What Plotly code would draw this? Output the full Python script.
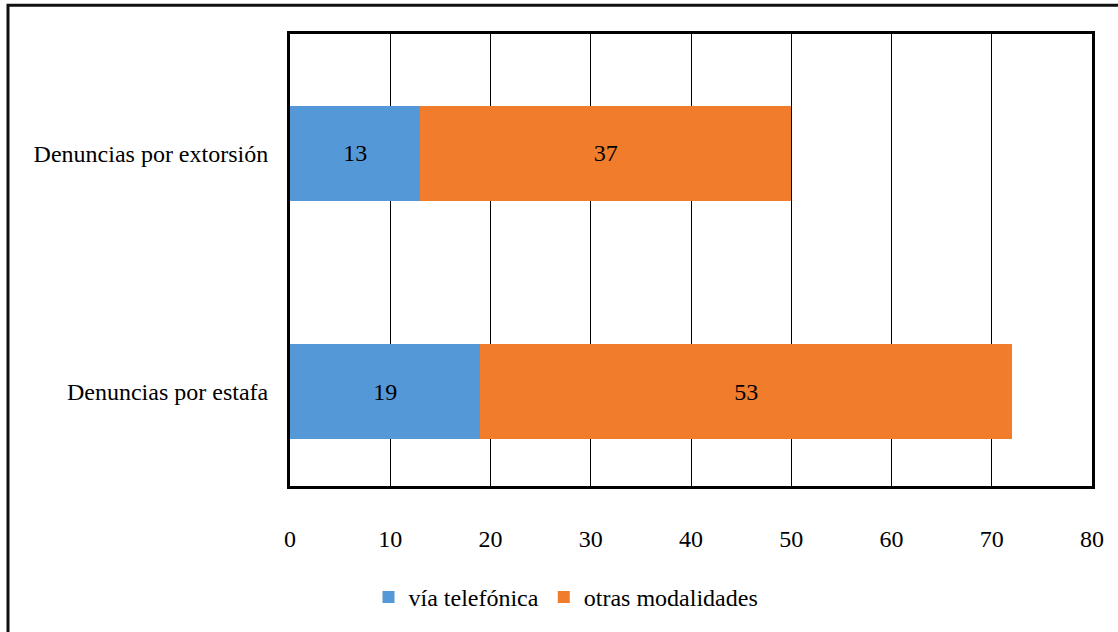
import plotly.graph_objects as go

categories = ["Denuncias por estafa", "Denuncias por extorsión"]
via_telefonica = [19, 13]
otras_modalidades = [53, 37]
x_ticks = [0, 10, 20, 30, 40, 50, 60, 70, 80]

W, H = 1118, 632
L, R, T, B = 290, 26, 34, 144
pw, ph = W - L - R, H - T - B

font_family = "Liberation Serif, Times New Roman, serif"
FS = 24

fig = go.Figure()
fig.add_trace(go.Bar(
    y=[0, 1], x=via_telefonica, orientation="h", name="vía telefónica",
    marker=dict(color="#5598D7", line=dict(width=0)),
    text=via_telefonica, textposition="inside", insidetextanchor="middle",
    textfont=dict(color="black", size=FS, family=font_family),
))
fig.add_trace(go.Bar(
    y=[0, 1], x=otras_modalidades, orientation="h", name="otras modalidades",
    marker=dict(color="#F07C2C", line=dict(width=0)),
    text=otras_modalidades, textposition="inside", insidetextanchor="middle",
    textfont=dict(color="black", size=FS, family=font_family),
))

# outer chart border
fig.add_shape(type="rect", xref="paper", yref="paper",
              x0=(8 - L) / pw, x1=(W + 10 - L) / pw,
              y0=-(H + 10 - T - ph) / ph, y1=(ph + T - 5) / ph,
              line=dict(color="#111111", width=3), layer="below")

fig.update_layout(
    width=W, height=H,
    margin=dict(l=L, r=R, t=T, b=B, pad=0),
    barmode="stack", bargap=0.6,
    plot_bgcolor="white", paper_bgcolor="white",
    font=dict(family=font_family, size=FS, color="black"),
    showlegend=True,
    legend=dict(orientation="h", x=(566 - L) / pw, xanchor="center",
                y=-(600 - T - ph) / ph, yanchor="middle",
                font=dict(size=FS, family=font_family), itemwidth=30,
                traceorder="normal"),
    uniformtext=dict(mode=False),
)
fig.update_xaxes(
    range=[0, 80], tickvals=x_ticks, showgrid=True, gridcolor="black", gridwidth=1,
    showline=True, linecolor="black", linewidth=3, mirror=True, zeroline=False,
    ticks="", ticklabelstandoff=29, tickfont=dict(size=FS, family=font_family),
)
fig.update_yaxes(
    range=[-0.397, 1.502], tickvals=[0, 1], ticktext=categories,
    showgrid=False, showline=True, linecolor="black", linewidth=3, mirror=True,
    zeroline=False, ticks="", ticklabelstandoff=14,
    tickfont=dict(size=FS, family=font_family),
)

fig.write_html("out.html")
